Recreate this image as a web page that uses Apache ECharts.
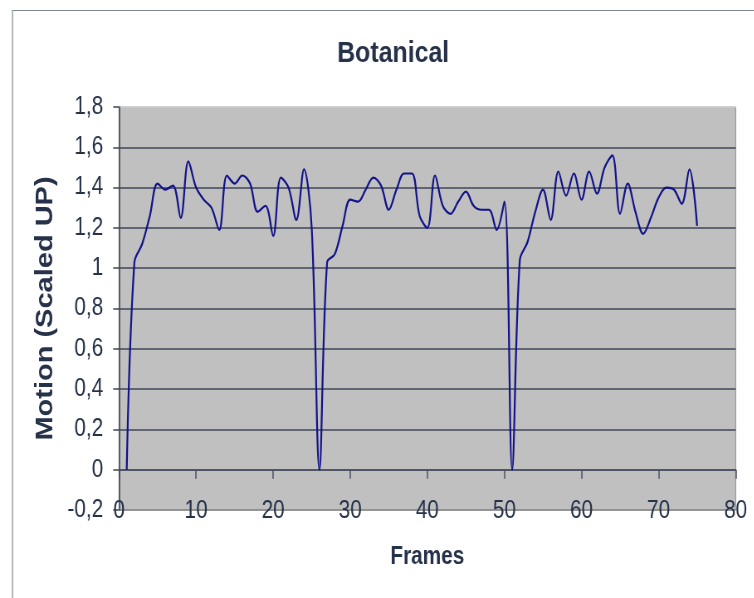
<!DOCTYPE html>
<html>
<head>
<meta charset="utf-8">
<script src="https://cdn.jsdelivr.net/npm/echarts@6/dist/echarts.min.js"></script>
<style>
html,body{margin:0;padding:0;background:#ffffff;overflow:hidden;width:754px;height:598px;}
#chart{height:598px;transform-origin:0 0;}
</style>
</head>
<body>
<div id="chart"></div>
<script>
const chartTitle = 'Botanical';
const xAxisTitle = 'Frames';
const yAxisTitle = 'Motion (Scaled UP)';
const frames = [1,2,3,4,5,6,7,8,9,10,11,12,13,14,15,16,17,18,19,20,21,22,23,24,25,26,27,28,29,30,31,32,33,34,35,36,37,38,39,40,41,42,43,44,45,46,47,48,49,50,51,52,53,54,55,56,57,58,59,60,61,62,63,64,65,66,67,68,69,70,71,72,73,74,75];
const motion = [0,1.03,1.12,1.26,1.42,1.39,1.41,1.25,1.53,1.40,1.34,1.30,1.19,1.46,1.42,1.46,1.42,1.28,1.31,1.16,1.45,1.40,1.24,1.49,1.20,0,1.03,1.07,1.21,1.34,1.33,1.39,1.45,1.41,1.29,1.39,1.47,1.47,1.26,1.20,1.46,1.31,1.27,1.33,1.38,1.31,1.29,1.29,1.19,1.33,0,1.04,1.13,1.28,1.39,1.24,1.48,1.36,1.47,1.34,1.48,1.37,1.50,1.56,1.27,1.42,1.28,1.17,1.25,1.35,1.40,1.39,1.32,1.49,1.21];
const xMin = 0, xMax = 80, xStep = 10;
const yMin = -0.2, yMax = 1.8, yStep = 0.2;

// the reference is horizontally condensed; reproduce with a horizontal scale
const K = 0.83;
const W = 754 / K;
const el = document.getElementById('chart');
el.style.width = W + 'px';
el.style.transform = 'scaleX(' + K + ')';

const textColor = '#26324a';
const font = "'Liberation Sans', Arial, sans-serif";

const seriesData = frames.map((f, i) => [f, motion[i]]);
const nLines = Math.round((yMax - yMin) / yStep) + 1;
const splitColors = [];
for (let i = 0; i < nLines; i++) {
  splitColors.push(i === 0 ? '#8a8a8a' : (i === nLines - 1 ? '#d4d4d4' : '#3f475a'));
}

const chart = echarts.init(el);
chart.setOption({
  backgroundColor: '#ffffff',
  animation: false,
  title: {
    text: chartTitle,
    left: 389 / K,
    top: 34,
    textAlign: 'center',
    textStyle: { fontFamily: font, fontSize: 30, fontWeight: 'bold', color: textColor }
  },
  graphic: [{
    type: 'rect',
    shape: { x: 12.5 / K, y: 10.5, width: W, height: 700 },
    style: { fill: 'none', stroke: '#7f8692', lineWidth: 1.2 },
    z: -10, silent: true
  }],
  grid: {
    left: 119 / K, top: 107, right: 18 / K, bottom: 88,
    outerBoundsMode: 'none', containLabel: false,
    show: true, backgroundColor: '#c0c0c0', borderColor: '#8a8a8a', borderWidth: 1
  },
  xAxis: {
    type: 'value', min: xMin, max: xMax, interval: xStep,
    name: xAxisTitle, nameLocation: 'middle', nameGap: 35,
    nameTextStyle: { fontFamily: font, fontSize: 25, fontWeight: 'bold', color: textColor },
    axisLine: { show: true, onZero: true, lineStyle: { color: '#4a5060', width: 1.5 } },
    axisTick: { show: true, inside: false, length: 9, lineStyle: { color: '#4a5060', width: 1.5 } },
    axisLabel: { margin: 1, verticalAlign: 'middle', fontFamily: font, fontSize: 25, color: textColor },
    splitLine: { show: false }
  },
  yAxis: {
    type: 'value', min: yMin, max: yMax, interval: yStep,
    name: yAxisTitle, nameLocation: 'middle', nameGap: 74,
    nameTextStyle: { fontFamily: font, fontSize: 29, fontWeight: 'bold', color: textColor },
    axisLine: { show: true, lineStyle: { color: '#404552', width: 1.5 } },
    axisTick: { show: true, inside: false, length: 7, lineStyle: { color: '#404552', width: 1.5 } },
    axisLabel: {
      margin: 19, fontFamily: font, fontSize: 25, color: textColor,
      formatter: function (v) {
        return (Math.round(v * 10) / 10).toString().replace('.', ',');
      }
    },
    splitLine: { show: true, lineStyle: { color: splitColors, width: 1.6 } }
  },
  series: [{
    type: 'line',
    data: seriesData,
    smooth: 0.35,
    showSymbol: false,
    lineStyle: { color: '#12128a', width: 2.2 },
    z: 5
  }]
});
</script>
</body>
</html>
